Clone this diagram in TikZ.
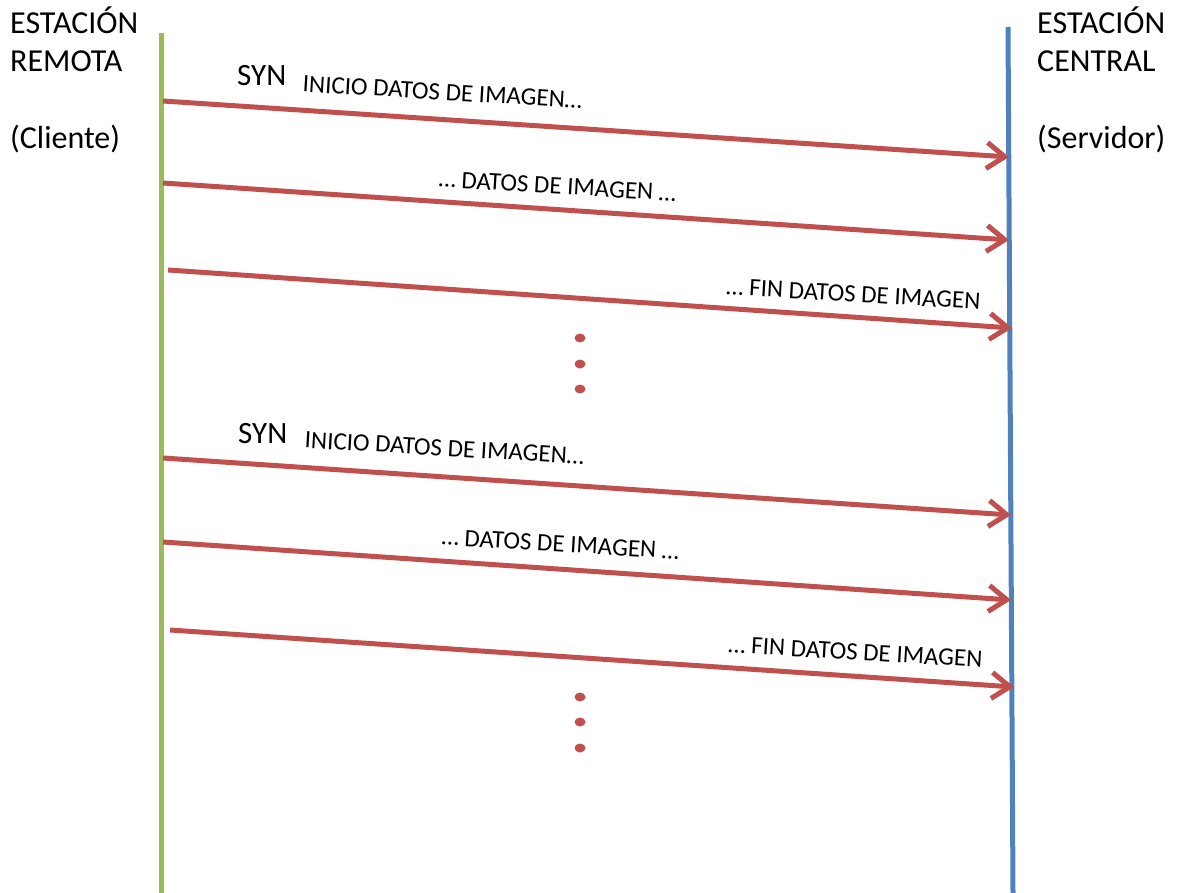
\documentclass[tikz,border=0pt]{standalone}
\usepackage{fontspec}
\setmainfont{Carlito}
\usetikzlibrary{arrows.meta}

\definecolor{msgred}{RGB}{192,80,77}
\definecolor{clientgreen}{RGB}{155,187,89}
\definecolor{serverblue}{RGB}{79,129,189}

\tikzset{
  title/.style={font=\fontsize{32}{38.5}\selectfont, align=left, anchor=base west, inner sep=0pt},
  lifeline/.style={line width=5pt},
  msg/.style={draw=msgred, line width=5pt,
    -{Straight Barb[length=18pt,width=26pt,line width=5pt]}},
  syntag/.style={font=\fontsize{31}{36}\selectfont, anchor=base west, inner sep=0pt},
  msglabel/.style={font=\fontsize{25}{30}\selectfont, anchor=base, inner sep=0pt, rotate=-3.4},
}

\begin{document}
\begin{tikzpicture}[x=1pt,y=-1pt]
\useasboundingbox (0,0) rectangle (1182,893);

% station titles (anchored on the baseline of their last line)
\node[title] (remote) at (10,149) {ESTACIÓN\\REMOTA\\[38.5pt](Cliente)};
\node[title] (central) at (1037,149) {ESTACIÓN\\CENTRAL\\[38.5pt](Servidor)};

% lifelines
\coordinate (cTop) at (161,33);
\coordinate (cBot) at (161,893);
\coordinate (sTop) at (1008,27);
\coordinate (sBot) at (1013,893);
\draw[lifeline, clientgreen] (cTop) -- (cBot);
\draw[lifeline, serverblue] (sTop) -- (sBot);

% message end points
\coordinate (m1s) at (163,101);  \coordinate (m1e) at (1009,157);
\coordinate (m2s) at (163,183);  \coordinate (m2e) at (1009,240);
\coordinate (m3s) at (168,270);  \coordinate (m3e) at (1012,328);
\coordinate (m4s) at (163,458);  \coordinate (m4e) at (1011,515);
\coordinate (m5s) at (163,542);  \coordinate (m5e) at (1011,600);
\coordinate (m6s) at (170,630);  \coordinate (m6e) at (1014,687);

% messages
\foreach \i in {1,...,6} \draw[msg] (m\i s) -- (m\i e);

% first image transfer
\node[syntag] (syn1) at (237,86) {SYN};
\node[msglabel] (l1) at (442,100) {INICIO DATOS DE IMAGEN…};
\node[msglabel] (l2) at (557,194) {… DATOS DE IMAGEN …};
\node[msglabel] (l3) at (853,302) {… FIN DATOS DE IMAGEN};

% second image transfer
\node[syntag] (syn2) at (238,443) {SYN};
\node[msglabel] (l4) at (444,456) {INICIO DATOS DE IMAGEN…};
\node[msglabel] (l5) at (560,552) {… DATOS DE IMAGEN …};
\node[msglabel] (l6) at (855,660) {… FIN DATOS DE IMAGEN};

% continuation dots
\foreach \y in {338,364,389,697,722,748}
  \fill[msgred] (580,\y) ellipse [x radius=5.5pt, y radius=4.5pt];
\end{tikzpicture}
\end{document}
